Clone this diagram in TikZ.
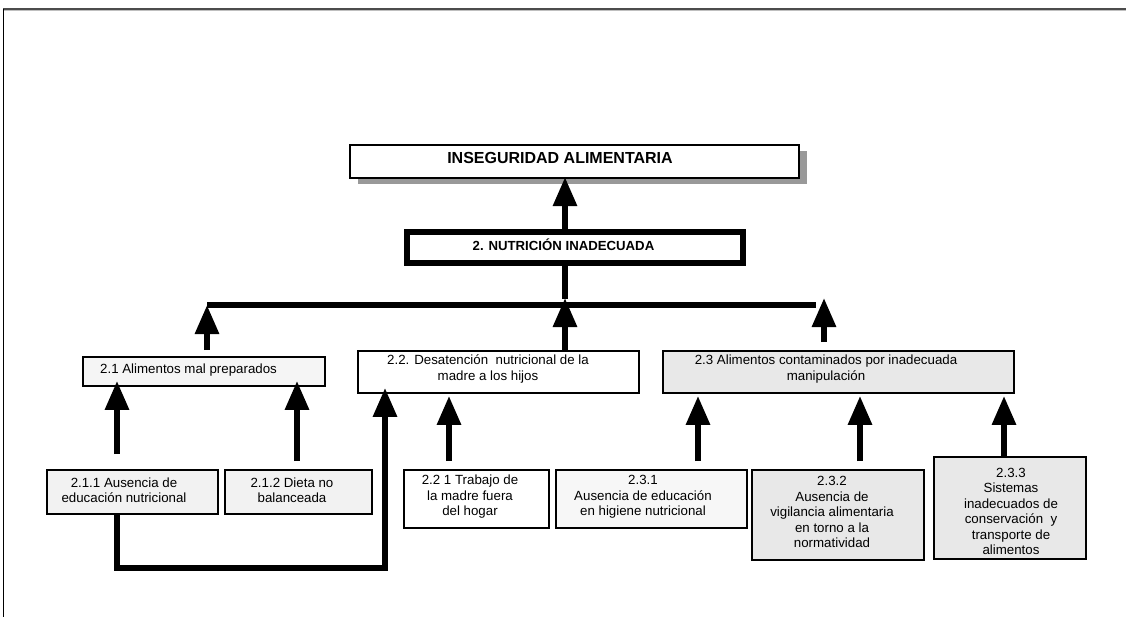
\documentclass[tikz,border=0pt]{standalone}
\usepackage{fontspec}
\setmainfont{Liberation Sans}
\usetikzlibrary{arrows.meta,calc,shadows}

\begin{document}
\begin{tikzpicture}[x=1pt,y=-1pt,
  box/.style={draw=black,line width=1.8pt,inner sep=0pt},
  lbl/.style={align=center,font=\fontsize{13.3}{15.5}\selectfont,inner sep=0pt},
  uparrow/.style={line width=6pt,-{Triangle[length=29pt,width=23pt]}},
  link/.style={line width=6pt},
]
\useasboundingbox (0,0) rectangle (1126,617);

% page frame
\draw[line width=1.6pt,black!70] (3,9.3) -- (1126,9.3);
\draw[line width=1pt,black!25] (4,11) -- (1126,11);
\draw[line width=0.9pt] (3.5,9) -- (3.5,617);

% vertical guides for the connectors
\coordinate (xm) at (565,0);
\coordinate (xl) at (207,0);
\coordinate (xr) at (824,0);
\coordinate (xa) at (117,0);
\coordinate (xb) at (297,0);
\coordinate (xc) at (385,0);
\coordinate (xd) at (449,0);
\coordinate (xe) at (698,0);
\coordinate (xf) at (860,0);
\coordinate (xg) at (1004,0);
\coordinate (bl) at (207,305);
\coordinate (br) at (816,305);

% top problem
\node[box,line width=2.2pt,minimum width=449pt,minimum height=33pt,fill=white,
  drop shadow={shadow xshift=8pt,shadow yshift=-6pt,fill=black!40,opacity=1}]
  (ins) at (574.5,161.5) {};
\node[font=\fontsize{16}{19}\selectfont\bfseries,inner sep=0pt] (insT) at (560,158) {INSEGURIDAD ALIMENTARIA};

% central problem
\node[draw,line width=6pt,minimum width=336pt,minimum height=31pt,inner sep=0pt,fill=white]
  (nut) at (575,247.5) {};
\node[font=\fontsize{13.2}{15}\selectfont\bfseries,inner sep=0pt] (nutT) at (563.5,245) {2. NUTRICIÓN INADECUADA};

% direct causes
\node[box,fill=black!4,minimum width=242pt,minimum height=29pt] (b21) at (204,371.5) {};
\node[box,fill=white,minimum width=281pt,minimum height=42pt] (b22) at (498.5,372) {};
\node[box,fill=black!9,minimum width=351pt,minimum height=42pt] (b23) at (838.5,372) {};

\node[lbl,anchor=west] (t21) at (100,370) {2.1 Alimentos mal preparados};
\node[lbl] (t22) at (488,369) {2.2. Desatención~ nutricional de la\\madre a los hijos};
\node[lbl] (t23) at (826,369) {2.3 Alimentos contaminados por inadecuada\\manipulación};

% underlying causes
\node[box,fill=black!5,minimum width=171pt,minimum height=44pt] (b211) at (132.5,492) {};
\node[box,fill=black!5,minimum width=147pt,minimum height=44pt] (b212) at (298.5,492) {};
\node[box,fill=white,minimum width=145pt,minimum height=58pt] (b221) at (476.5,499) {};
\node[box,fill=black!3,minimum width=191pt,minimum height=58pt] (b231) at (651.5,499) {};
\node[box,fill=black!9,minimum width=172pt,minimum height=90pt] (b232) at (838,515) {};
\node[box,fill=black!9,minimum width=152pt,minimum height=102pt] (b233) at (1010,508) {};

\node[lbl] (t211) at (124,490) {2.1.1 Ausencia de\\educación nutricional};
\node[lbl] (t212) at (292,490) {2.1.2 Dieta no\\balanceada};
\node[lbl] (t221) at (470,497) {2.2 1 Trabajo de\\la madre fuera\\del hogar};
\node[lbl] (t231) at (643,497) {2.3.1\\Ausencia de educación\\en higiene nutricional};
\node[lbl] (t232) at (832,512) {2.3.2\\Ausencia de\\vigilancia alimentaria\\en torno a la\\normatividad};
\node[lbl] (t233) at (1011,511.5) {2.3.3\\Sistemas\\inadecuados de\\conservación~ y\\transporte de\\alimentos};

% connectors
\draw[uparrow] (nut.north -| xm) -- ($(ins.south -| xm)+(0,-2)$);
\draw[link] (nut.south -| xm) -- ++(0,33);
\draw[line width=5.5pt] (bl) -- (br);
\draw[uparrow] ($(b21.north -| xl)+(0,-6)$) -- (bl);
\draw[uparrow] (b22.north -| xm) -- ($(bl -| xm)+(0,-7)$);
\draw[uparrow] ($(b23.north -| xr)+(0,-8)$) -- ($(br -| xr)+(0,-7)$);

\draw[uparrow] ($(b211.north -| xa)+(0,-15)$) -- ($(b21.south -| xa)+(0,-6)$);
\draw[uparrow] ($(b212.north -| xb)+(0,-8)$) -- ($(b21.south -| xb)+(0,-6)$);
\draw[uparrow] (b211.south -| xa) -- ++(0,53) -| ($(b22.south -| xc)+(0,-6)$);
\draw[uparrow] ($(b221.north -| xd)+(0,-8)$) -- ($(b22.south -| xd)+(0,2)$);

\draw[uparrow] ($(b231.north -| xe)+(0,-8)$) -- ($(b23.south -| xe)+(0,2)$);
\draw[uparrow] ($(b232.north -| xf)+(0,-8)$) -- ($(b23.south -| xf)+(0,2)$);
\draw[uparrow] (b233.north -| xg) -- ($(b23.south -| xg)+(0,2)$);
\end{tikzpicture}
\end{document}
